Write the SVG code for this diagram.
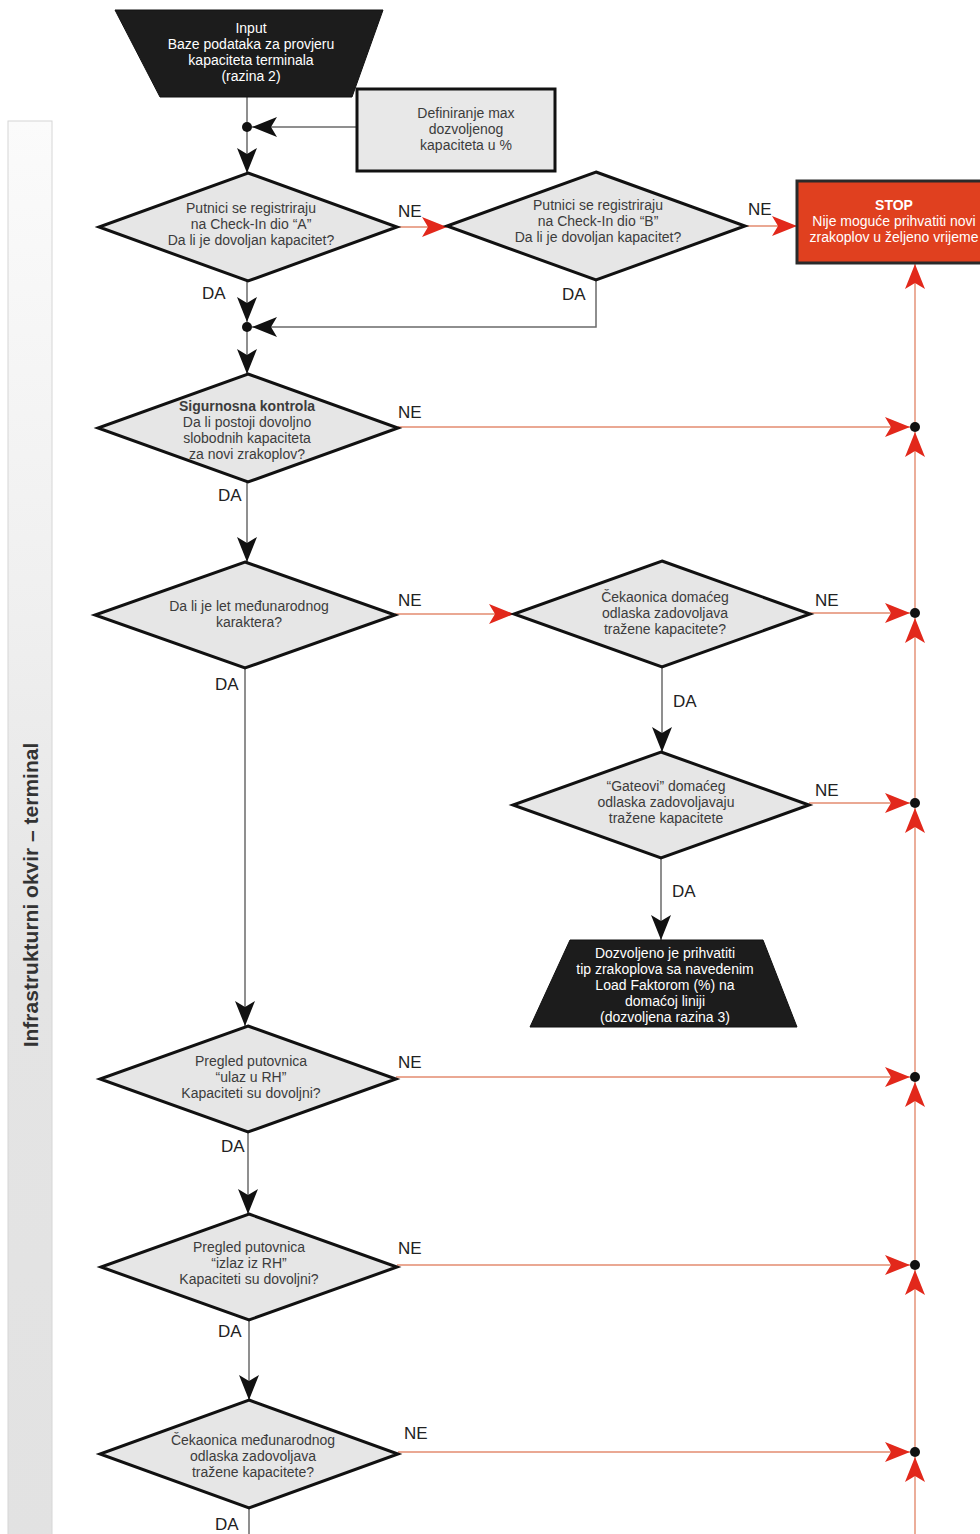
<svg xmlns="http://www.w3.org/2000/svg" xmlns:xlink="http://www.w3.org/1999/xlink" width="980" height="1534" viewBox="0 0 980 1534">
<style>
.dia{fill:#e6e6e6;stroke:#111;stroke-width:3;stroke-linejoin:miter}
.box{fill:#e8e8e8;stroke:#111;stroke-width:3}
.trap{fill:#1c1c1c;stroke:#111;stroke-width:1}
.stop{fill:#e0401f;stroke:#2a2a2a;stroke-width:3}
.t{font-family:"Liberation Sans",Arial,sans-serif;font-size:14px;fill:#3c3c3c;text-anchor:middle}
.tw{font-family:"Liberation Sans",Arial,sans-serif;font-size:14px;fill:#fff;text-anchor:middle}
.b{font-weight:bold}
.lbl{font-family:"Liberation Sans",Arial,sans-serif;font-size:17px;fill:#222}
.gl{fill:none;stroke:#6a6a6a;stroke-width:1.5}
.rl{fill:none;stroke:#e38b6f;stroke-width:1.4}
.dot{fill:#111}
</style>
<defs>
<linearGradient id="bandg" x1="0" y1="0" x2="0" y2="1">
<stop offset="0" stop-color="#fbfbfb"/>
<stop offset="0.35" stop-color="#efefef"/>
<stop offset="0.6" stop-color="#e4e4e4"/>
<stop offset="1" stop-color="#e2e2e2"/>
</linearGradient>
<marker id="ab" viewBox="-26 -11 27 22" refX="0" refY="0" markerWidth="27" markerHeight="22" markerUnits="userSpaceOnUse" orient="auto">
<path d="M0,0 L-25,-10 L-19,0 L-25,10 z" fill="#111"/>
</marker>
<marker id="ar" viewBox="-26 -11 27 22" refX="0" refY="0" markerWidth="27" markerHeight="22" markerUnits="userSpaceOnUse" orient="auto">
<path d="M0,0 L-25,-10 L-19,0 L-25,10 z" fill="#e2281b"/>
</marker>
</defs>
<rect x="0" y="0" width="980" height="1534" fill="#ffffff"/>

<g id="band">
<rect x="8" y="121" width="44" height="1430" fill="url(#bandg)" stroke="#d6d6d6" stroke-width="1"/>
<text x="38" y="895" transform="rotate(-90 38 895)" font-family="'Liberation Sans',Arial,sans-serif" font-size="21" font-weight="bold" fill="#333" text-anchor="middle">Infrastrukturni okvir – terminal</text>
</g>

<g id="connectors">
<line class="gl" x1="247" y1="97" x2="247" y2="127"/>
<line class="gl" x1="357" y1="127" x2="252" y2="127" marker-end="url(#ab)"/>
<line class="gl" x1="247" y1="127" x2="247" y2="173" marker-end="url(#ab)"/>
<line class="gl" x1="247" y1="281" x2="247" y2="322" marker-end="url(#ab)"/>
<polyline class="gl" points="596,280 596,327 252,327" marker-end="url(#ab)"/>
<line class="gl" x1="247" y1="327" x2="247" y2="374" marker-end="url(#ab)"/>
<line class="gl" x1="247" y1="482" x2="247" y2="562" marker-end="url(#ab)"/>
<line class="gl" x1="245" y1="668" x2="245" y2="1026" marker-end="url(#ab)"/>
<line class="gl" x1="248" y1="1132" x2="248" y2="1214" marker-end="url(#ab)"/>
<line class="gl" x1="249" y1="1320" x2="249" y2="1400" marker-end="url(#ab)"/>
<line class="gl" x1="249" y1="1508" x2="249" y2="1540"/>
<line class="gl" x1="662" y1="667" x2="662" y2="752" marker-end="url(#ab)"/>
<line class="gl" x1="661" y1="858" x2="661" y2="940" marker-end="url(#ab)"/>

<line class="rl" x1="397" y1="227" x2="447" y2="227" marker-end="url(#ar)"/>
<line class="rl" x1="745" y1="226" x2="797" y2="226" marker-end="url(#ar)"/>
<line class="rl" x1="398" y1="427" x2="910" y2="427" marker-end="url(#ar)"/>
<line class="rl" x1="395" y1="614" x2="514" y2="614" marker-end="url(#ar)"/>
<line class="rl" x1="810" y1="613" x2="910" y2="613" marker-end="url(#ar)"/>
<line class="rl" x1="809" y1="803" x2="910" y2="803" marker-end="url(#ar)"/>
<line class="rl" x1="396" y1="1077" x2="910" y2="1077" marker-end="url(#ar)"/>
<line class="rl" x1="397" y1="1265" x2="910" y2="1265" marker-end="url(#ar)"/>
<line class="rl" x1="398" y1="1452" x2="910" y2="1452" marker-end="url(#ar)"/>

<line class="rl" x1="915" y1="1540" x2="915" y2="1457" marker-end="url(#ar)"/>
<line class="rl" x1="915" y1="1452" x2="915" y2="1270" marker-end="url(#ar)"/>
<line class="rl" x1="915" y1="1265" x2="915" y2="1082" marker-end="url(#ar)"/>
<line class="rl" x1="915" y1="1077" x2="915" y2="808" marker-end="url(#ar)"/>
<line class="rl" x1="915" y1="803" x2="915" y2="618" marker-end="url(#ar)"/>
<line class="rl" x1="915" y1="613" x2="915" y2="432" marker-end="url(#ar)"/>
<line class="rl" x1="915" y1="427" x2="915" y2="264" marker-end="url(#ar)"/>

<circle class="dot" cx="247" cy="127" r="5"/>
<circle class="dot" cx="247" cy="327" r="5"/>
<circle class="dot" cx="915" cy="427" r="5"/>
<circle class="dot" cx="915" cy="613" r="5"/>
<circle class="dot" cx="915" cy="803" r="5"/>
<circle class="dot" cx="915" cy="1077" r="5"/>
<circle class="dot" cx="915" cy="1265" r="5"/>
<circle class="dot" cx="915" cy="1452" r="5"/>

<text class="lbl" x="398" y="217">NE</text>
<text class="lbl" x="748" y="215">NE</text>
<text class="lbl" x="202" y="299">DA</text>
<text class="lbl" x="562" y="300">DA</text>
<text class="lbl" x="398" y="418">NE</text>
<text class="lbl" x="218" y="501">DA</text>
<text class="lbl" x="398" y="606">NE</text>
<text class="lbl" x="815" y="606">NE</text>
<text class="lbl" x="215" y="690">DA</text>
<text class="lbl" x="673" y="707">DA</text>
<text class="lbl" x="815" y="796">NE</text>
<text class="lbl" x="672" y="897">DA</text>
<text class="lbl" x="398" y="1068">NE</text>
<text class="lbl" x="221" y="1152">DA</text>
<text class="lbl" x="398" y="1254">NE</text>
<text class="lbl" x="218" y="1337">DA</text>
<text class="lbl" x="404" y="1439">NE</text>
<text class="lbl" x="215" y="1530">DA</text>
</g>

<g id="input">
<polygon class="trap" points="115,10 383,10 352,97 160,97"/>
<text class="tw" x="251" y="33">Input</text>
<text class="tw" x="251" y="49">Baze podataka za provjeru</text>
<text class="tw" x="251" y="65">kapaciteta terminala</text>
<text class="tw" x="251" y="81">(razina 2)</text>
</g>

<g id="definiranje">
<rect class="box" x="357" y="89" width="198" height="82"/>
<text class="t" x="466" y="118">Definiranje max</text>
<text class="t" x="466" y="134">dozvoljenog</text>
<text class="t" x="466" y="150">kapaciteta u %</text>
</g>

<g id="checkinA">
<polygon class="dia" points="248,173 397,227 248,281 99,227"/>
<text class="t" x="251" y="213">Putnici se registriraju</text>
<text class="t" x="251" y="229">na Check-In dio “A”</text>
<text class="t" x="251" y="245">Da li je dovoljan kapacitet?</text>
</g>

<g id="checkinB">
<polygon class="dia" points="596,172 745,226 596,280 447,226"/>
<text class="t" x="598" y="210">Putnici se registriraju</text>
<text class="t" x="598" y="226">na Check-In dio “B”</text>
<text class="t" x="598" y="242">Da li je dovoljan kapacitet?</text>
</g>

<g id="stop">
<rect class="stop" x="797" y="181" width="200" height="82"/>
<text class="tw b" x="894" y="210">STOP</text>
<text class="tw" x="894" y="226">Nije moguće prihvatiti novi</text>
<text class="tw" x="894" y="242">zrakoplov u željeno vrijeme</text>
</g>

<g id="sigurnosna">
<polygon class="dia" points="248,374 398,428 248,482 98,428"/>
<text class="t b" x="247" y="411" fill="#222">Sigurnosna kontrola</text>
<text class="t" x="247" y="427">Da li postoji dovoljno</text>
<text class="t" x="247" y="443">slobodnih kapaciteta</text>
<text class="t" x="247" y="459">za novi zrakoplov?</text>
</g>

<g id="medjunarodni">
<polygon class="dia" points="245,562 395,615 245,668 95,615"/>
<text class="t" x="249" y="611">Da li je let međunarodnog</text>
<text class="t" x="249" y="627">karaktera?</text>
</g>

<g id="cekaonicaDomaca">
<polygon class="dia" points="662,561 810,614 662,667 514,614"/>
<text class="t" x="665" y="602">Čekaonica domaćeg</text>
<text class="t" x="665" y="618">odlaska zadovoljava</text>
<text class="t" x="665" y="634">tražene kapacitete?</text>
</g>

<g id="gateovi">
<polygon class="dia" points="661,752 809,805 661,858 513,805"/>
<text class="t" x="666" y="791">“Gateovi” domaćeg</text>
<text class="t" x="666" y="807">odlaska zadovoljavaju</text>
<text class="t" x="666" y="823">tražene kapacitete</text>
</g>

<g id="dozvoljeno">
<polygon class="trap" points="570,940 763,940 797,1027 530,1027"/>
<text class="tw" x="665" y="958" font-size="14.5">Dozvoljeno je prihvatiti</text>
<text class="tw" x="665" y="974" font-size="14.5">tip zrakoplova sa navedenim</text>
<text class="tw" x="665" y="990" font-size="14.5">Load Faktorom (%) na</text>
<text class="tw" x="665" y="1006" font-size="14.5">domaćoj liniji</text>
<text class="tw" x="665" y="1022" font-size="14.5">(dozvoljena razina 3)</text>
</g>

<g id="ulaz">
<polygon class="dia" points="248,1026 396,1079 248,1132 100,1079"/>
<text class="t" x="251" y="1066">Pregled putovnica</text>
<text class="t" x="251" y="1082">“ulaz u RH”</text>
<text class="t" x="251" y="1098">Kapaciteti su dovoljni?</text>
</g>

<g id="izlaz">
<polygon class="dia" points="249,1214 397,1267 249,1320 101,1267"/>
<text class="t" x="249" y="1252">Pregled putovnica</text>
<text class="t" x="249" y="1268">“izlaz iz RH”</text>
<text class="t" x="249" y="1284">Kapaciteti su dovoljni?</text>
</g>

<g id="cekaonicaMedj">
<polygon class="dia" points="249,1400 398,1454 249,1508 100,1454"/>
<text class="t" x="253" y="1445">Čekaonica međunarodnog</text>
<text class="t" x="253" y="1461">odlaska zadovoljava</text>
<text class="t" x="253" y="1477">tražene kapacitete?</text>
</g>
</svg>
